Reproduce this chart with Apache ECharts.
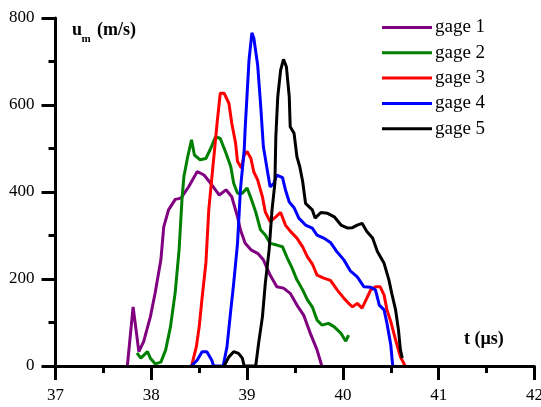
<!DOCTYPE html>
<html>
<head>
<meta charset="utf-8">
<script src="https://cdn.jsdelivr.net/npm/echarts@6/dist/echarts.min.js"></script>
<style>
  html, body { margin: 0; padding: 0; background: #fff; }
  #chart { width: 541px; height: 407px; }
</style>
</head>
<body>
<div id="chart"></div>
<script>
// Axis ticks
const xTicks = [37, 38, 39, 40, 41, 42];
const yTicks = [0, 200, 400, 600, 800];

// Series names and colours
const gageNames = ['gage 1', 'gage 2', 'gage 3', 'gage 4', 'gage 5'];
const gageColors = ['#800080', '#008000', '#ff0000', '#0000ff', '#000000'];

// Time (µs) and particle velocity u_m (m/s) for each gage
const gage1T = [37.75, 37.81, 37.87, 37.92, 37.99, 38.04, 38.10, 38.13, 38.18, 38.25, 38.31, 38.39, 38.48, 38.55, 38.62, 38.71, 38.78, 38.84, 38.90, 38.93, 38.98, 39.04, 39.11, 39.17, 39.24, 39.31, 39.38, 39.45, 39.52, 39.59, 39.66, 39.73, 39.78];
const gage1U = [0, 136, 33, 56, 113, 168, 244, 320, 359, 383, 386, 412, 447, 439, 420, 393, 405, 389, 343, 313, 282, 267, 259, 244, 209, 182, 179, 167, 140, 117, 75, 37, 0];

const gage2T = [37.85, 37.89, 37.96, 37.99, 38.04, 38.10, 38.15, 38.20, 38.25, 38.29, 38.32, 38.34, 38.38, 38.42, 38.45, 38.51, 38.57, 38.62, 38.67, 38.72, 38.78, 38.83, 38.86, 38.90, 38.95, 39.00, 39.04, 39.09, 39.14, 39.19, 39.24, 39.31, 39.37, 39.42, 39.47, 39.52, 39.58, 39.63, 39.68, 39.73, 39.78, 39.85, 39.91, 39.98, 40.03, 40.06];
const gage2U = [30, 18, 33, 18, 5, 9, 37, 90, 170, 267, 382, 435, 481, 520, 485, 474, 477, 500, 527, 523, 489, 458, 420, 397, 397, 409, 386, 354, 313, 301, 282, 278, 274, 248, 225, 198, 175, 152, 136, 106, 94, 98, 90, 75, 57, 71];

const gage3T = [38.42, 38.47, 38.50, 38.53, 38.57, 38.60, 38.64, 38.69, 38.72, 38.76, 38.81, 38.84, 38.88, 38.90, 38.94, 38.97, 39.00, 39.04, 39.07, 39.11, 39.16, 39.19, 39.24, 39.30, 39.35, 39.40, 39.45, 39.52, 39.58, 39.63, 39.68, 39.73, 39.80, 39.87, 39.94, 40.01, 40.06, 40.10, 40.15, 40.20, 40.25, 40.29, 40.34, 40.39, 40.43, 40.46, 40.50, 40.55, 40.60, 40.65];
const gage3U = [0, 44, 90, 156, 237, 359, 451, 566, 627, 627, 604, 558, 512, 470, 455, 485, 493, 477, 446, 428, 389, 354, 332, 343, 353, 324, 310, 294, 274, 251, 235, 209, 202, 197, 175, 156, 144, 136, 144, 133, 156, 175, 182, 182, 163, 129, 102, 60, 21, 0];

const gage4T = [38.42, 38.48, 38.53, 38.58, 38.63, 38.65, 38.75, 38.79, 38.83, 38.86, 38.90, 38.93, 38.97, 38.98, 39.02, 39.05, 39.07, 39.11, 39.14, 39.17, 39.21, 39.24, 39.28, 39.31, 39.37, 39.40, 39.44, 39.49, 39.54, 39.61, 39.68, 39.73, 39.80, 39.87, 39.94, 40.01, 40.08, 40.15, 40.22, 40.29, 40.34, 40.38, 40.43, 40.46, 40.50, 40.52];
const gage4U = [0, 14, 33, 33, 14, 0, 0, 44, 129, 190, 282, 405, 497, 547, 703, 766, 754, 692, 604, 504, 451, 412, 420, 439, 433, 405, 377, 364, 340, 324, 317, 301, 294, 284, 262, 244, 218, 205, 182, 181, 175, 140, 129, 98, 48, 0];

const gage5T = [38.76, 38.81, 38.86, 38.91, 38.95, 38.97, 39.09, 39.12, 39.16, 39.19, 39.23, 39.26, 39.29, 39.30, 39.32, 39.35, 39.38, 39.41, 39.44, 39.45, 39.49, 39.52, 39.55, 39.58, 39.61, 39.68, 39.71, 39.77, 39.84, 39.91, 39.98, 40.05, 40.10, 40.15, 40.20, 40.25, 40.31, 40.36, 40.43, 40.48, 40.51, 40.55, 40.58, 40.60, 40.62];
const gage5U = [0, 21, 33, 29, 18, 0, 0, 52, 113, 190, 267, 359, 420, 527, 619, 680, 705, 688, 619, 550, 535, 481, 458, 424, 374, 359, 340, 353, 351, 343, 324, 317, 318, 324, 328, 309, 294, 263, 236, 198, 167, 129, 83, 37, 18];

const gageT = [gage1T, gage2T, gage3T, gage4T, gage5T];
const gageU = [gage1U, gage2U, gage3U, gage4U, gage5U];

const serif = "'Liberation Serif', 'Times New Roman', Tinos, 'DejaVu Serif', serif";

const chart = echarts.init(document.getElementById('chart'), null, { renderer: 'canvas' });

const series = gageNames.map((name, i) => ({
  name: name,
  type: 'line',
  data: gageT[i].map((t, k) => [t, gageU[i][k]]),
  showSymbol: false,
  symbol: 'none',
  smooth: false,
  lineStyle: { color: gageColors[i], width: 3 },
  itemStyle: { color: gageColors[i] },
  emphasis: { disabled: true },
  z: 2
}));

const axisCommon = {
  axisLine: { show: true, onZero: false, lineStyle: { color: '#000', width: 3 } },
  axisTick: { show: true, inside: false, length: 14, lineStyle: { color: '#000', width: 3 } },
  minorTick: { show: true, splitNumber: 2, length: 7, lineStyle: { color: '#000', width: 3 } },
  splitLine: { show: false },
  minorSplitLine: { show: false },
  axisLabel: { color: '#000', fontFamily: serif, fontSize: 17, margin: 21, showMinLabel: true, showMaxLabel: true }
};

chart.setOption({
  animation: false,
  backgroundColor: '#fff',
  grid: { left: 55.5, right: 6.5, top: 18, bottom: 41, containLabel: false, outerBoundsMode: 'none' },
  xAxis: Object.assign({}, axisCommon, {
    type: 'value',
    min: xTicks[0],
    max: xTicks[xTicks.length - 1],
    interval: 1,
    z: 3
  }),
  yAxis: Object.assign({}, axisCommon, {
    type: 'value',
    min: yTicks[0],
    max: yTicks[yTicks.length - 1],
    interval: 200,
    z: 3
  }),
  legend: {
    orient: 'vertical',
    left: 377,
    top: 13,
    itemWidth: 50,
    itemHeight: 14,
    itemGap: 6.3,
    icon: 'path://M0,6 L50,6 L50,9 L0,9 Z',
    textStyle: { color: '#000', fontFamily: serif, fontSize: 19, lineHeight: 19, padding: [0, 0, 0, -2] },
    data: gageNames,
    selectedMode: false
  },
  graphic: [
    { type: 'text', x: 72, y: 30, style: { text: 'u', font: 'bold 18px ' + serif, fill: '#000', textVerticalAlign: 'middle' } },
    { type: 'text', x: 81.5, y: 39.5, style: { text: 'm', font: 'bold 11px ' + serif, fill: '#000', textVerticalAlign: 'middle' } },
    { type: 'text', x: 97, y: 30, style: { text: '(m/s)', font: 'bold 18px ' + serif, fill: '#000', textVerticalAlign: 'middle' } },
    { type: 'text', x: 464, y: 339, style: { text: 't (µs)', font: 'bold 18px ' + serif, fill: '#000', textVerticalAlign: 'middle' } }
  ],
  series: series
});
</script>
</body>
</html>
